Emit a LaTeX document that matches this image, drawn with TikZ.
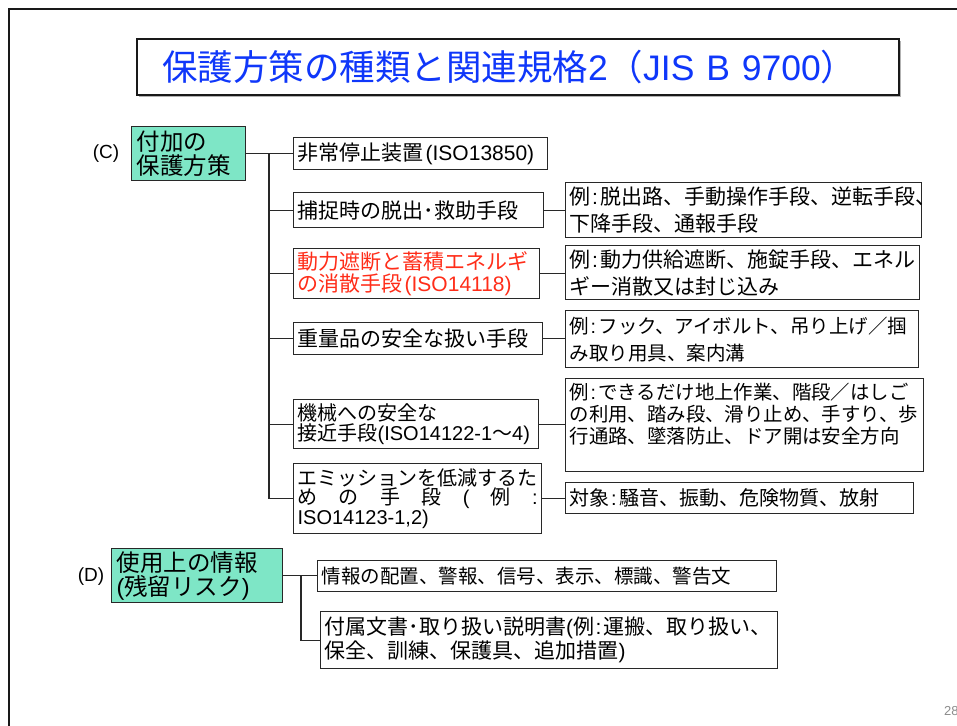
\documentclass[tikz,border=0pt]{standalone}
\usepackage{fontspec}
\setmainfont{Noto Sans CJK JP}
\newfontfamily\latfont{Liberation Sans}
\newcommand\la[1]{{\latfont #1}}
\newcommand\cl{\la{\kern1.5pt:\kern2.5pt}}
\definecolor{titleblue}{RGB}{15,55,250}
\definecolor{boxgreen}{RGB}{126,230,198}
\definecolor{redtxt}{RGB}{255,45,25}
\definecolor{linegray}{RGB}{40,40,40}
\begin{document}
\begin{tikzpicture}[x=1pt,y=-1pt,
  bx/.style={draw=linegray, line width=1.3pt, fill=white, anchor=north west,
    inner xsep=4pt, inner ysep=0pt, align=left},
  grn/.style={bx, fill=boxgreen, inner xsep=5pt},
  conn/.style={draw=linegray, line width=1.3pt},
  lbl/.style={font=\latfont\fontsize{19}{20}\selectfont, inner sep=0pt}]
\useasboundingbox (0,0) rectangle (957,725);
\fill[white] (0,0) rectangle (957,725);
% slide frame
\draw[line width=2.5pt, black!90] (9,740) -- (9,9) -- (970,9);
% title
\fill[black!30] (139,41) rectangle (901,97);
\node[draw=black!90, line width=2pt, fill=white, anchor=north west,
  minimum width=762pt, minimum height=56pt, inner xsep=25pt, inner ysep=0pt,
  text width=712pt, align=left, font=\fontsize{35.5}{40}\selectfont, text=titleblue]
  (title) at (136,38) {保護方策の種類と関連規格\la{2}（\la{JIS B 9700}）};
% (C)
\node[lbl] (lC) at (106,154) {(C)};
\node[grn, minimum width=114pt, minimum height=54pt, text width=104pt,
  font=\fontsize{23.5}{24}\selectfont] (gC) at (131,126) {付加の\\保護方策};
\node[bx, minimum width=254pt, minimum height=32pt, text width=246pt,
  font=\fontsize{21}{23}\selectfont] (b1) at (293,137) {非常停止装置\la{\kern2pt(ISO13850)}};
\node[bx, minimum width=250pt, minimum height=35pt, text width=242pt,
  font=\fontsize{21}{23}\selectfont] (b2) at (293,192) {捕捉時の脱出･救助手段};
\node[bx, minimum width=246pt, minimum height=50pt, text width=238pt, text=redtxt,
  font=\fontsize{21}{21.5}\selectfont] (b3) at (293,248) {動力遮断と蓄積エネルギ\\の消散手段\la{\kern2pt(ISO14118)}};
\node[bx, minimum width=249pt, minimum height=32pt, text width=241pt,
  font=\fontsize{21}{23}\selectfont] (b4) at (293,322) {重量品の安全な扱い手段};
\node[bx, minimum width=245pt, minimum height=49pt, text width=237pt,
  font=\fontsize{20}{20}\selectfont] (b5) at (293,399) {機械への安全な\\\mbox{接近手段\la{(ISO14122-1}～\la{4)}}};
\node[bx, minimum width=248pt, minimum height=70pt, text width=240pt,
  font=\fontsize{20}{19.5}\selectfont] (b6) at (293,463)
  {エミッションを低減するた\\\leavevmode\hbox to 240pt{め\hfill の\hfill 手\hfill 段\hfill \la{(}\hfill 例\hfill \la{:}}\\\la{ISO14123-1,2)}};
% right column
\node[bx, minimum width=356pt, minimum height=55pt, text width=348pt,
  font=\fontsize{21}{27}\selectfont] (r2) at (565,182) {例\cl 脱出路、手動操作手段、逆転手段、\\下降手段、通報手段};
\node[bx, minimum width=354pt, minimum height=54pt, text width=346pt,
  font=\fontsize{21}{27}\selectfont] (r3) at (565,245) {例\cl 動力供給遮断、施錠手段、エネル\\ギー消散又は封じ込み};
\node[bx, minimum width=353pt, minimum height=57pt, text width=345pt,
  font=\fontsize{19.5}{27}\selectfont] (r4) at (565,310) {例\cl フック、アイボルト、吊り上げ／掴\\み取り用具、案内溝};
\node[bx, minimum width=358pt, minimum height=93pt, inner xsep=0pt,
  font=\fontsize{19.4}{22}\selectfont] (r5) at (565,378)
  {\parbox[c][85pt][t]{350pt}{例\cl できるだけ地上作業、階段／はしご\\の利用、踏み段、滑り止め、手すり、歩\\行通路、墜落防止、ドア開は安全方向}};
\node[bx, minimum width=348pt, minimum height=31pt, text width=340pt,
  font=\fontsize{20}{22}\selectfont] (r6) at (565,482) {対象\cl 騒音、振動、危険物質、放射};
% (D)
\node[lbl] (lD) at (91,577) {(D)};
\node[grn, minimum width=171pt, minimum height=54pt, text width=161pt,
  font=\fontsize{23.5}{24}\selectfont] (gD) at (111,548) {使用上の情報\\\la{(}残留リスク\la{)}};
\node[bx, minimum width=459pt, minimum height=31pt, text width=451pt,
  font=\fontsize{19.5}{22}\selectfont] (d1) at (317,560) {情報の配置、警報、信号、表示、標識、警告文};
\node[bx, minimum width=457pt, minimum height=57pt, text width=449pt,
  font=\fontsize{21}{24}\selectfont] (d2) at (320,611) {付属文書･取り扱い説明書\la{(}例\cl 運搬、取り扱い、\\保全、訓練、保護具、追加措置\la{)}};
% page number
\node[anchor=west, text=black!45, font=\latfont\fontsize{13}{13}\selectfont, inner sep=0pt] (pg) at (944,711) {28};
% connectors
\coordinate (trk) at (269,0);
\draw[conn] (gC.east) -- (b1.west);
\draw[conn] (trk |- gC.east) -- (trk |- b6.west) -- (b6.west);
\foreach \n in {b2,b3,b4,b5} \draw[conn] (trk |- \n.west) -- (\n.west);
\draw[conn] (b2.east) -- (b2.east -| r2.west);
\draw[conn] (b3.east) -- (b3.east -| r3.west);
\draw[conn] (b4.east) -- (b4.east -| r4.west);
\draw[conn] (b5.east) -- (b5.east -| r5.west);
\draw[conn] (b6.east) -- (b6.east -| r6.west);
\coordinate (dtr) at (301,0);
\draw[conn] (gD.east) -- (gD.east -| d1.west);
\draw[conn] (dtr |- gD.east) |- (d2.west);
\end{tikzpicture}
\end{document}
